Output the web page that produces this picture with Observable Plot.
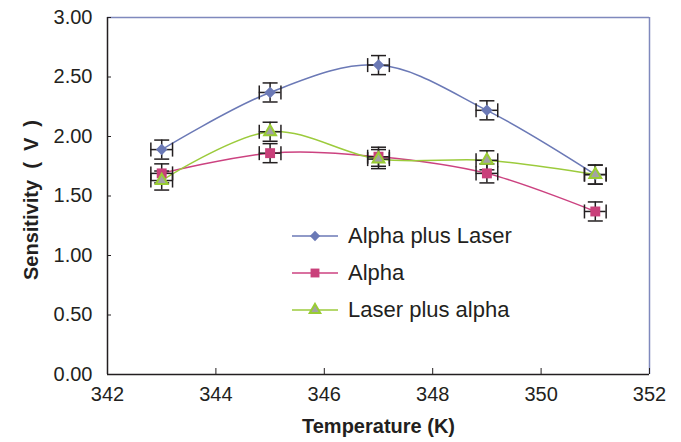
<!DOCTYPE html>
<html><head><meta charset="utf-8">
<script src="https://cdn.jsdelivr.net/npm/d3@7"></script>
<script src="https://cdn.jsdelivr.net/npm/@observablehq/plot@0.6"></script>
<style>
body{margin:0;background:#fff;font-family:"Liberation Sans",Arial,sans-serif}
#wrap{position:relative;width:681px;height:442px}
#legend{position:absolute;left:292px;top:217px;font-size:22px;color:#231f20}
#legend .row{display:flex;align-items:center;height:37px}
#legend svg{margin-right:8px}
</style></head><body><div id="wrap"><div id="legend"></div></div>
<script>
const temperatures = [343, 345, 347, 349, 351];
const seriesNames = ["Alpha plus Laser", "Alpha", "Laser plus alpha"];
const alphaPlusLaser = [1.89, 2.37, 2.60, 2.22, 1.68];
const alpha = [1.69, 1.86, 1.83, 1.69, 1.37];
const laserPlusAlpha = [1.63, 2.04, 1.81, 1.80, 1.68];
const yError = 0.08;
const xError = 0.2;
const xTicks = [342, 344, 346, 348, 350, 352];
const yTicks = [0, 0.5, 1, 1.5, 2, 2.5, 3];

const styles = {
  "Alpha plus Laser": {line: "#6b79b6", fill: "#6b79b6", stroke: "none", symbol: "diamond2", r: 5.2},
  "Alpha": {line: "#cc4280", fill: "#c9407a", stroke: "none", symbol: "square", r: 5.6},
  "Laser plus alpha": {line: "#9ccb3c", fill: "#a3a3a3", stroke: "#99cc33", symbol: "triangle", r: 4.4}
};
const valuesBySeries = [alphaPlusLaser, alpha, laserPlusAlpha];
const rows = seriesNames.flatMap((s, i) => temperatures.map((t, j) => ({series: s, x: t, y: valuesBySeries[i][j]})));

const hbar = {draw(ctx, size) { const r = Math.sqrt(size / Math.PI); ctx.moveTo(-r, 0); ctx.lineTo(r, 0); }};
const vbar = {draw(ctx, size) { const r = Math.sqrt(size / Math.PI); ctx.moveTo(0, -r); ctx.lineTo(0, r); }};
const ink = "#231f20";

const marks = [
  Plot.ruleY([3], {stroke: "#7f89bd", strokeWidth: 1.5}),
  Plot.ruleX([352], {stroke: "#7f89bd", strokeWidth: 1.5}),
  Plot.tickY(yTicks, {y: d => d, stroke: ink, insetRight: 538}),
  Plot.tickX(xTicks, {x: d => d, stroke: ink, insetTop: 351}),
  Plot.ruleX([342], {stroke: ink, strokeWidth: 1.5}),
  Plot.ruleY([0], {stroke: ink, strokeWidth: 1.5}),
  Plot.axisX(xTicks, {tickSize: 0, tickPadding: 12, fontSize: 20, fill: ink, tickFormat: d => d, label: null}),
  Plot.axisY(yTicks, {tickSize: 0, tickPadding: 15, fontSize: 20, fill: ink, tickFormat: d3.format(".2f"), label: null}),
  Plot.text(["Temperature (K)"], {frameAnchor: "bottom", textAnchor: "middle", dy: 58, fontSize: 20, fontWeight: "bold", fill: ink}),
  Plot.text(["Sensitivity\u00a0\u00a0(\u00a0\u00a0V\u00a0\u00a0)"], {frameAnchor: "left", textAnchor: "middle", dx: -76, dy: 4, rotate: -90, fontSize: 20, fontWeight: "bold", fill: ink})
];
for (const s of seriesNames) {
  const d = rows.filter(r => r.series === s);
  marks.push(Plot.line(d, {x: "x", y: "y", curve: "catmull-rom", stroke: styles[s].line, strokeWidth: 1.5}));
}
marks.push(
  Plot.ruleX(rows, {x: "x", y1: d => d.y - yError, y2: d => d.y + yError, stroke: ink, strokeWidth: 1.5}),
  Plot.ruleY(rows, {y: "y", x1: d => d.x - xError, x2: d => d.x + xError, stroke: ink, strokeWidth: 1.5}),
  Plot.dot(rows, {x: "x", y: d => d.y + yError, symbol: hbar, r: 7.5, fill: "none", stroke: ink, strokeWidth: 1.5}),
  Plot.dot(rows, {x: "x", y: d => d.y - yError, symbol: hbar, r: 7.5, fill: "none", stroke: ink, strokeWidth: 1.5}),
  Plot.dot(rows, {x: d => d.x + xError, y: "y", symbol: vbar, r: 7, fill: "none", stroke: ink, strokeWidth: 1.5}),
  Plot.dot(rows, {x: d => d.x - xError, y: "y", symbol: vbar, r: 7, fill: "none", stroke: ink, strokeWidth: 1.5})
);
for (const s of seriesNames) {
  const d = rows.filter(r => r.series === s);
  const st = styles[s];
  marks.push(Plot.dot(d, {x: "x", y: "y", symbol: st.symbol, r: st.r, fill: st.fill, stroke: st.stroke, strokeWidth: 2}));
}

const chart = Plot.plot({
  width: 681, height: 442,
  marginLeft: 107, marginRight: 32, marginTop: 17, marginBottom: 68,
  style: {fontFamily: "'Liberation Sans', Arial, sans-serif", background: "#fff"},
  x: {domain: [342, 352], axis: null},
  y: {domain: [0, 3], axis: null},
  marks
});
document.getElementById("wrap").prepend(chart);

// legend
const legend = document.getElementById("legend");
for (const s of seriesNames) {
  const st = styles[s];
  const row = document.createElement("div");
  row.className = "row";
  const svg = d3.create("svg").attr("width", 48).attr("height", 16);
  svg.append("line").attr("x1", 0).attr("x2", 46).attr("y1", 8).attr("y2", 8).attr("stroke", st.line).attr("stroke-width", 1.5);
  const typ = {diamond2: d3.symbolDiamond2, square: d3.symbolSquare, triangle: d3.symbolTriangle}[st.symbol];
  svg.append("path").attr("transform", "translate(23,8)")
    .attr("d", d3.symbol(typ, st.r * st.r * Math.PI * 0.8)())
    .attr("fill", st.fill).attr("stroke", st.stroke).attr("stroke-width", 2);
  row.appendChild(svg.node());
  const span = document.createElement("span");
  span.textContent = s;
  row.appendChild(span);
  legend.appendChild(row);
}
</script></body></html>
